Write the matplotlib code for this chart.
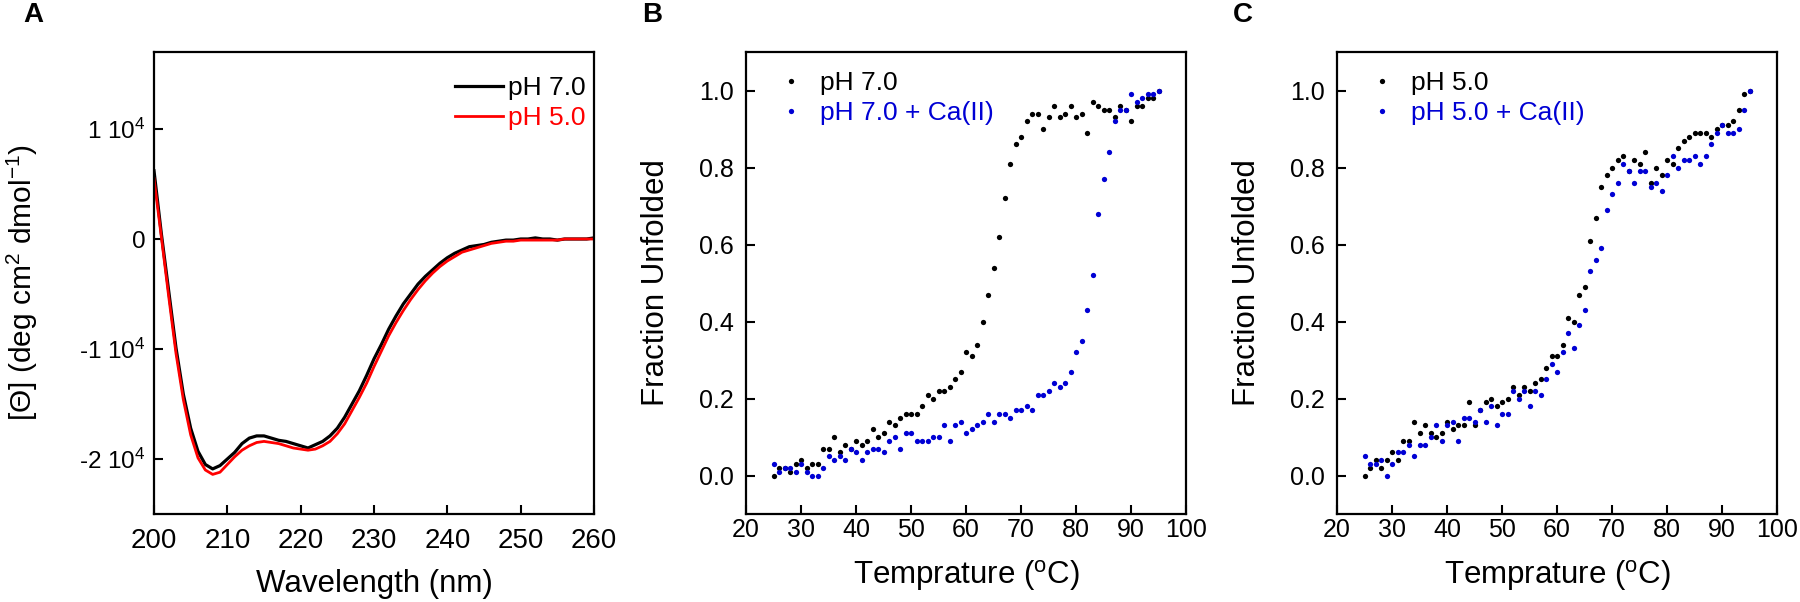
import matplotlib
matplotlib.use("Agg")
import matplotlib.pyplot as plt
import numpy as np

plt.rcParams['font.family'] = ['Liberation Sans', 'DejaVu Sans']
plt.rcParams['mathtext.fontset'] = 'custom'
plt.rcParams['mathtext.rm'] = 'Liberation Sans'
plt.rcParams['mathtext.it'] = 'Liberation Sans'

# panel A: CD spectra (values in 1e4 deg cm2 dmol-1)
wavelength = list(range(200, 261))
cd_ph7 = [0.62, 0.05, -0.47, -0.99, -1.41, -1.72, -1.93, -2.05, -2.09, -2.06,
          -2.00, -1.94, -1.86, -1.81, -1.79, -1.79, -1.81, -1.83, -1.84, -1.86,
          -1.88, -1.90, -1.87, -1.84, -1.79, -1.72, -1.62, -1.50, -1.38, -1.24,
          -1.09, -0.96, -0.82, -0.70, -0.59, -0.50, -0.41, -0.34, -0.28, -0.22,
          -0.17, -0.13, -0.10, -0.07, -0.06, -0.05, -0.03, -0.02, -0.01, -0.01,
          0.00, 0.00, 0.01, 0.00, 0.00, -0.01, 0.00, 0.00, 0.00, 0.00, 0.01]
cd_ph5 = [0.55, 0.02, -0.52, -1.04, -1.46, -1.78, -1.99, -2.10, -2.14, -2.12,
          -2.05, -1.98, -1.92, -1.88, -1.85, -1.84, -1.85, -1.86, -1.88, -1.90,
          -1.91, -1.92, -1.91, -1.88, -1.84, -1.77, -1.68, -1.56, -1.44, -1.31,
          -1.16, -1.02, -0.88, -0.76, -0.65, -0.55, -0.46, -0.38, -0.31, -0.25,
          -0.20, -0.16, -0.12, -0.10, -0.08, -0.06, -0.04, -0.03, -0.02, -0.02,
          -0.01, -0.01, -0.01, -0.01, -0.01, -0.01, 0.00, 0.00, 0.00, 0.00, 0.00]

# panels B and C: thermal melts, 25..95 C
temps = list(range(25, 96))
b_ph7 = [0.00, 0.02, 0.02, 0.01, 0.03, 0.04, 0.02, 0.03, 0.03, 0.07,
         0.07, 0.10, 0.06, 0.08, 0.07, 0.09, 0.08, 0.09, 0.12, 0.10,
         0.11, 0.14, 0.13, 0.15, 0.16, 0.16, 0.16, 0.18, 0.21, 0.20,
         0.22, 0.22, 0.23, 0.25, 0.27, 0.32, 0.31, 0.34, 0.40, 0.47,
         0.54, 0.62, 0.72, 0.81, 0.86, 0.88, 0.92, 0.94, 0.94, 0.90,
         0.93, 0.96, 0.93, 0.94, 0.96, 0.93, 0.94, 0.89, 0.97, 0.96,
         0.95, 0.95, 0.93, 0.96, 0.95, 0.92, 0.96, 0.96, 0.98, 0.98, 1.00]
b_ph7_ca = [0.03, 0.01, 0.02, 0.02, 0.01, 0.03, 0.01, 0.00, 0.00, 0.02,
            0.05, 0.04, 0.05, 0.04, 0.07, 0.06, 0.04, 0.06, 0.07, 0.07,
            0.06, 0.09, 0.10, 0.07, 0.11, 0.11, 0.09, 0.09, 0.09, 0.10,
            0.10, 0.13, 0.09, 0.13, 0.14, 0.11, 0.12, 0.13, 0.14, 0.16,
            0.14, 0.16, 0.16, 0.15, 0.17, 0.17, 0.18, 0.17, 0.21, 0.21,
            0.22, 0.24, 0.23, 0.24, 0.27, 0.32, 0.35, 0.43, 0.52, 0.68,
            0.77, 0.84, 0.92, 0.95, 0.95, 0.99, 0.97, 0.98, 0.99, 0.99, 1.00]
c_ph5 = [0.00, 0.02, 0.04, 0.02, 0.04, 0.06, 0.04, 0.09, 0.09, 0.14,
         0.11, 0.13, 0.11, 0.10, 0.11, 0.14, 0.12, 0.13, 0.13, 0.19,
         0.13, 0.17, 0.19, 0.20, 0.18, 0.19, 0.20, 0.23, 0.21, 0.23,
         0.22, 0.24, 0.25, 0.28, 0.31, 0.31, 0.34, 0.41, 0.40, 0.47,
         0.49, 0.61, 0.67, 0.75, 0.78, 0.80, 0.82, 0.83, 0.79, 0.82,
         0.81, 0.84, 0.76, 0.80, 0.78, 0.82, 0.81, 0.85, 0.87, 0.88,
         0.89, 0.89, 0.89, 0.88, 0.90, 0.91, 0.91, 0.92, 0.95, 0.99, 1.00]
c_ph5_ca = [0.05, 0.03, 0.03, 0.04, 0.00, 0.03, 0.06, 0.06, 0.08, 0.05,
            0.08, 0.08, 0.10, 0.13, 0.09, 0.13, 0.14, 0.09, 0.15, 0.15,
            0.14, 0.17, 0.14, 0.18, 0.13, 0.16, 0.16, 0.22, 0.20, 0.22,
            0.18, 0.22, 0.21, 0.25, 0.29, 0.27, 0.32, 0.37, 0.33, 0.39,
            0.43, 0.53, 0.56, 0.59, 0.69, 0.73, 0.76, 0.81, 0.79, 0.76,
            0.79, 0.79, 0.75, 0.76, 0.74, 0.78, 0.83, 0.80, 0.82, 0.82,
            0.83, 0.81, 0.83, 0.86, 0.89, 0.91, 0.89, 0.89, 0.90, 0.95, 1.00]

BLUE = '#0000D4'
W, H = 1800, 602
fig = plt.figure(figsize=(18, 6.02), dpi=100)


def make_axes(left_px):
    ax = fig.add_axes([left_px / W, 1 - 514 / H, 440 / W, 462 / H])
    for s in ax.spines.values():
        s.set_linewidth(1.6)
    ax.tick_params(direction='in', length=6.5, width=1.5, top=False, right=False)
    return ax


# ---- A ----
axA = make_axes(154)
axA.plot(wavelength, np.array(cd_ph7) * 1e4, color='black', lw=2.3, label='pH 7.0')
axA.plot(wavelength, np.array(cd_ph5) * 1e4, color='#FF0000', lw=2.0, label='pH 5.0')
axA.set_xlim(200, 260)
axA.set_ylim(-2.5e4, 1.7e4)
axA.set_xticks([200, 210, 220, 230, 240, 250, 260])
axA.set_yticks([1e4, 0, -1e4, -2e4])
axA.set_yticklabels([r'1 10$^4$', '0', r'-1 10$^4$', r'-2 10$^4$'])
axA.tick_params(axis='x', labelsize=20, pad=10)
axA.tick_params(axis='y', labelsize=17.5, pad=6)
axA.set_xlabel('Wavelength (nm)', fontsize=22.5)
axA.set_ylabel(r'[$\Theta$] (deg cm$^2$ dmol$^{-1}$)', fontsize=21.5)
axA.xaxis.set_label_coords(0.5, -0.119)
axA.yaxis.set_label_coords(-0.259, 0.5)
axA.legend(loc='upper left', bbox_to_anchor=(0.655, 0.977), frameon=False,
           borderpad=0, handlelength=1.8, handletextpad=0.2, labelspacing=0.25,
           fontsize=19, labelcolor='linecolor')


def melt_panel(ax, y_black, y_blue, lab_black, lab_blue):
    ax.plot(temps, y_black, 'o', color='black', ms=3.8, mew=0, label=lab_black)
    ax.plot(temps, y_blue, 'o', color=BLUE, ms=3.8, mew=0, label=lab_blue)
    ax.set_xlim(20, 100)
    ax.set_ylim(-0.1, 1.1)
    ax.set_xticks([20, 30, 40, 50, 60, 70, 80, 90, 100])
    ax.set_yticks([0.0, 0.2, 0.4, 0.6, 0.8, 1.0])
    ax.set_yticklabels(['0.0', '0.2', '0.4', '0.6', '0.8', '1.0'])
    ax.tick_params(axis='both', labelsize=18)
    ax.tick_params(axis='x', pad=3)
    ax.tick_params(axis='y', pad=9)
    ax.set_xlabel(r'Temprature ($^{\rm o}$C)', fontsize=22.5)
    ax.set_ylabel('Fraction Unfolded', fontsize=22.5)
    ax.xaxis.set_label_coords(0.5, -0.095)
    ax.yaxis.set_label_coords(-0.17, 0.5)
    ax.legend(loc='upper left', bbox_to_anchor=(0.042, 0.988), frameon=False,
              borderpad=0, numpoints=1, handlelength=1.0, handletextpad=0.62,
              labelspacing=0.25, fontsize=19, labelcolor='linecolor')


axB = make_axes(746)
melt_panel(axB, b_ph7, b_ph7_ca, 'pH 7.0', 'pH 7.0 + Ca(II)')

axC = make_axes(1337)
melt_panel(axC, c_ph5, c_ph5_ca, 'pH 5.0', 'pH 5.0 + Ca(II)')

for x_px, letter in [(23, 'A'), (642, 'B'), (1233, 'C')]:
    fig.text(x_px / W, 0.997, letter, fontsize=20, fontweight='bold', va='top', ha='left')

fig.savefig('out.png', dpi=100)
